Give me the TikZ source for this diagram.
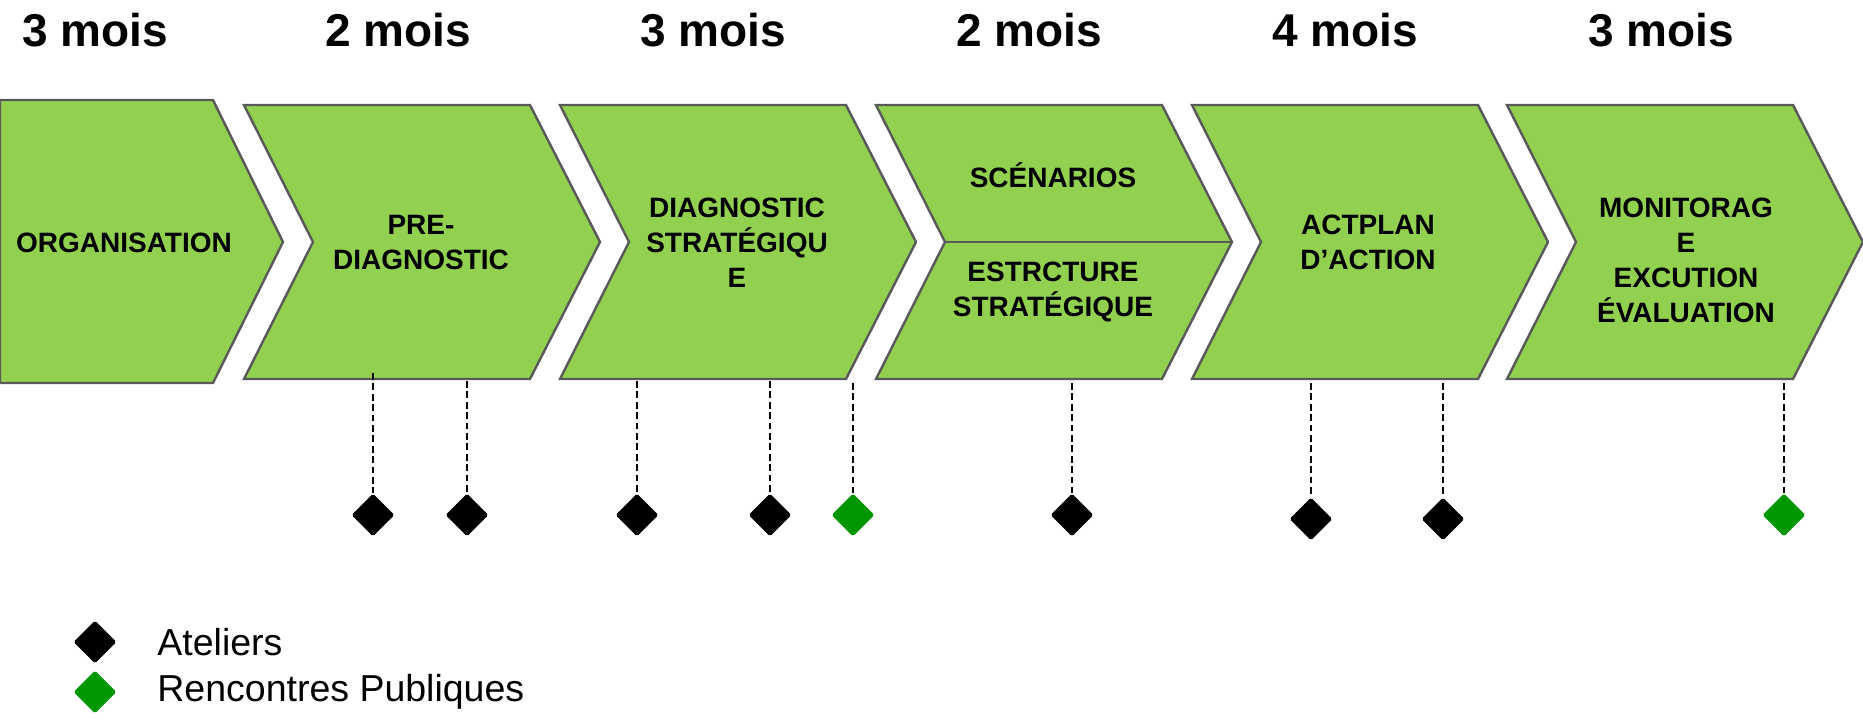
\documentclass[tikz,border=0pt]{standalone}
\usepackage{fontspec}
\setmainfont{Liberation Sans}
\usetikzlibrary{shapes.geometric}
\definecolor{phasegreen}{RGB}{146,208,80}
\definecolor{phaseline}{RGB}{89,89,89}
\definecolor{publicgreen}{RGB}{0,150,0}

\begin{document}
\begin{tikzpicture}[x=0.5pt, y=-0.5pt,
  every phase/.style={fill=phasegreen, draw=phaseline, line width=1.2pt},
  phase text/.style={align=center, inner sep=0pt, font=\fontsize{14}{17.5}\selectfont\bfseries},
  duration/.style={inner sep=0pt, font=\fontsize{23}{27}\selectfont\bfseries},
  meeting/.style={diamond, inner sep=0pt, minimum width=21.5pt, minimum height=21.5pt, rounded corners=0.8pt},
  dashed line/.style={line width=1pt, dash pattern=on 3.4pt off 1.8pt},
  legend text/.style={inner sep=0pt, anchor=west, font=\fontsize{18.75}{22}\selectfont}]

\useasboundingbox (0,0) rectangle (1863,721);

% durees
\foreach \x/\t [count=\i] in {95/3,398/2,713/3,1029/2,1345/4,1661/3}
  \node [duration] (month-\i) at (\x,30) {\t{} mois};

% phases
\draw [every phase/.try] (0,100) -- (213,100) -- (283,242) -- (213,383) -- (0,383) -- cycle;

\foreach \l in {244,560,876,1192,1507}
  \draw [every phase/.try] (\l,105) -- ++(286,0) -- ++(70,137) -- ++(-70,137)
    -- ++(-286,0) -- ++(69,-137) -- cycle;

\draw [draw=phaseline, line width=1.2pt] (946,242) -- (1231,242);

\foreach \x/\y/\t [count=\i] in {124/243/ORGANISATION,
    421/243/{PRE-\\DIAGNOSTIC},
    737/243/{DIAGNOSTIC\\STRATÉGIQU\\E},
    1053/175/SCÉNARIOS,
    1053/292/{ESTRCTURE\\STRATÉGIQUE},
    1368/242/{ACTPLAN\\D’ACTION},
    1686/260/{MONITORAG\\E\\EXCUTION\\ÉVALUATION}}
  \node [phase text] (phase-\i) at (\x,\y) {\t};

% ateliers et rencontres
\foreach \x/\y/\t/\c [count=\i] in {373/515/373/black, 467/515/381/black,
    637/515/381/black, 770/515/381/black, 853/515/383/publicgreen,
    1072/515/383/black, 1311/519/383/black, 1443/519/383/black,
    1784/515/383/publicgreen} {
  \node [meeting, fill=\c] (dia-\i) at (\x,\y) {};
  \coordinate (top-\i) at (\x,\t);
  \draw [dashed line] (top-\i) -- (dia-\i.north);
}

% legende
\node [meeting, fill=black] (key-1) at (95,642) {};
\node [meeting, fill=publicgreen] (key-2) at (95,692) {};
\node [legend text] (key-text-1) at (157,642) {Ateliers};
\node [legend text] (key-text-2) at (157,692) {Rencontres Publiques};

\end{tikzpicture}
\end{document}
